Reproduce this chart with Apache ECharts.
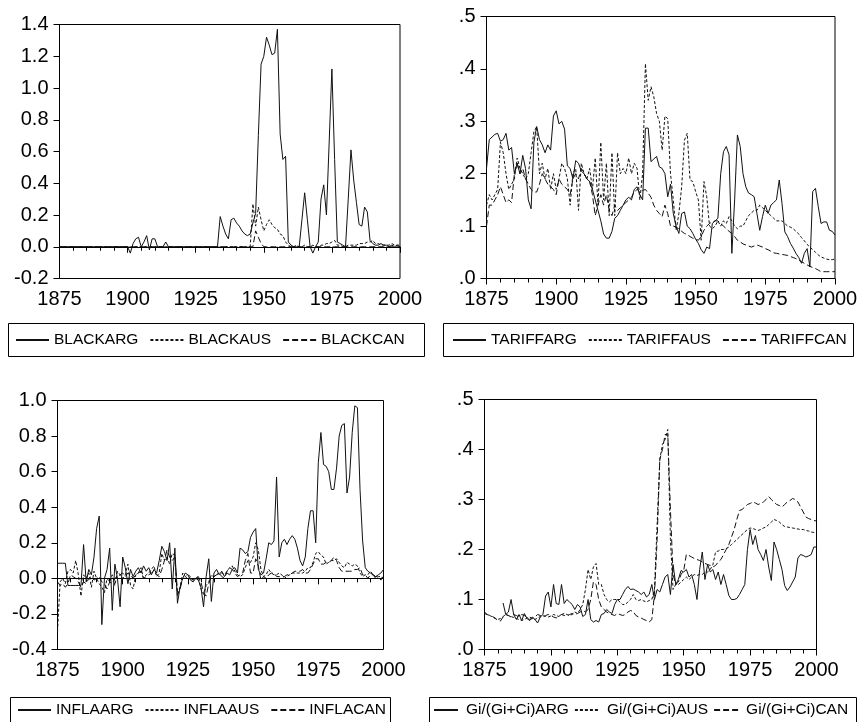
<!DOCTYPE html>
<html><head><meta charset="utf-8">
<script src="https://cdn.jsdelivr.net/npm/echarts@6/dist/echarts.min.js"></script>
<style>html,body{margin:0;padding:0;background:#fff}#c{width:861px;height:722px}</style>
</head><body><div id="c"></div>
<script>
const years = [1875,1876,1877,1878,1879,
1880,1881,1882,1883,1884,1885,1886,1887,1888,1889,
1890,1891,1892,1893,1894,1895,1896,1897,1898,1899,
1900,1901,1902,1903,1904,1905,1906,1907,1908,1909,
1910,1911,1912,1913,1914,1915,1916,1917,1918,1919,
1920,1921,1922,1923,1924,1925,1926,1927,1928,1929,
1930,1931,1932,1933,1934,1935,1936,1937,1938,1939,
1940,1941,1942,1943,1944,1945,1946,1947,1948,1949,
1950,1951,1952,1953,1954,1955,1956,1957,1958,1959,
1960,1961,1962,1963,1964,1965,1966,1967,1968,1969,
1970,1971,1972,1973,1974,1975,1976,1977,1978,1979,
1980,1981,1982,1983,1984,1985,1986,1987,1988,1989,
1990,1991,1992,1993,1994,1995,1996,1997,1998,1999,
2000];

// Panel 1: black market premium
const blackArg = [0,0,0,0,0,
0,0,0,0,0,0,0,0,0,0,
0,0,0,0,0,0,0,0,0,0,
0,-0.04,0.02,0.05,0.06,0.0,0.03,0.07,-0.02,0.05,
0.05,0.0,0.0,0.0,0.03,0,0,0,0,0,
0,0,0,0,0,0,0,0,0,0,
0,0,0,0,0.19,0.13,0.08,0.05,0.17,0.18,
0.15,0.13,0.1,0.08,0.07,0.08,0.15,0.21,0.7,1.15,
1.2,1.32,1.27,1.21,1.22,1.37,0.71,0.55,0.57,0.03,
0.01,0.0,0.0,0.0,0.17,0.34,0.17,0.0,-0.04,0.0,
0.03,0.3,0.39,0.2,0.66,1.12,0.55,0.03,0.02,0.01,
0.0,0.3,0.61,0.42,0.28,0.14,0.13,0.25,0.22,0.04,
0.02,0.01,0.01,0.02,0.01,0.01,0.0,0.01,0.0,0.01,
0.0];
const blackAus = [0,0,0,0,0,
0,0,0,0,0,0,0,0,0,0,
0,0,0,0,0,0,0,0,0,0,
0,0,0,0,0,0,0,0,0,0,
0,0,0,0,0,0,0,0,0,0,
0,0,0,0,0,0,0,0,0,0,
0,0,0,0,0,0,0,0,0,0,
0,0,0,0,0,0.0,0.27,0.13,0.25,0.17,
0.1,0.14,0.17,0.14,0.12,0.11,0.08,0.07,0.03,0.01,
0.0,0.0,0.01,0.0,0.0,0.01,0.0,0.0,0.01,0.0,
0.0,0.01,0.01,0.02,0.02,0.03,0.04,0.01,0.01,0.0,
0.0,0.01,0.01,0.01,0.01,0.02,0.02,0.02,0.03,0.03,
0.04,0.02,0.02,0.01,0.01,0.01,0.01,0.02,0.01,0.01,
0.01];
const blackCan = [0,0,0,0,0,
0,0,0,0,0,0,0,0,0,0,
0,0,0,0,0,0,0,0,0,0,
0,0,0,0,0,0,0,0,0,0,
0,0,0,0,0,0,0,0,0,0,
0,0,0,0,0,0,0,0,0,0,
0,0,0,0,0,0,0,0,0,0,
0,0,0,0,0,0,0.0,0.1,0.06,0.02,
0,0,0,0,0,0,0,0,0,0,
0,0,0,0,0,0,0,0,0,0,
0,0,0,0,0,0,0,0,0,0,
0,0,0,0,0,0,0,0,0,0,
0,0,0,0,0,0,0,0,0,0,
0];

// Panel 2: tariffs
const tariffArg = [0.21,0.265,0.27,0.275,0.277,
0.262,0.265,0.277,0.245,0.25,0.2,0.22,0.2,0.235,0.21,
0.15,0.133,0.26,0.29,0.265,0.255,0.24,0.255,0.245,0.31,
0.32,0.295,0.3,0.285,0.215,0.21,0.19,0.225,0.22,0.205,
0.2,0.19,0.185,0.17,0.15,0.13,0.11,0.085,0.077,0.077,
0.09,0.115,0.12,0.13,0.14,0.15,0.155,0.15,0.17,0.175,
0.16,0.15,0.287,0.287,0.223,0.228,0.233,0.213,0.21,0.2,
0.156,0.18,0.124,0.1,0.086,0.124,0.127,0.1,0.095,0.086,
0.075,0.067,0.055,0.048,0.06,0.057,0.105,0.11,0.115,0.2,
0.242,0.252,0.236,0.048,0.15,0.274,0.252,0.2,0.175,0.163,
0.16,0.156,0.124,0.092,0.118,0.14,0.124,0.14,0.145,0.15,
0.188,0.143,0.089,0.08,0.067,0.058,0.048,0.04,0.029,0.048,
0.057,0.022,0.166,0.172,0.137,0.105,0.108,0.108,0.092,0.09,
0.083];
const tariffAus = [0.14,0.16,0.15,0.16,0.17,
0.26,0.24,0.2,0.17,0.18,0.19,0.23,0.21,0.2,0.19,
0.2,0.24,0.28,0.29,0.2,0.22,0.19,0.21,0.17,0.2,
0.17,0.19,0.22,0.21,0.19,0.14,0.2,0.21,0.13,0.22,
0.2,0.19,0.21,0.17,0.23,0.14,0.26,0.15,0.22,0.12,
0.24,0.12,0.24,0.2,0.21,0.2,0.23,0.2,0.22,0.21,
0.15,0.2,0.41,0.34,0.366,0.347,0.315,0.3,0.245,0.31,
0.305,0.2,0.15,0.092,0.124,0.175,0.264,0.277,0.188,0.185,
0.166,0.15,0.073,0.185,0.156,0.1,0.095,0.1,0.11,0.1,
0.11,0.105,0.118,0.11,0.1,0.095,0.1,0.1,0.11,0.12,
0.125,0.13,0.13,0.14,0.135,0.13,0.125,0.12,0.115,0.11,
0.11,0.11,0.105,0.1,0.098,0.095,0.09,0.085,0.078,0.072,
0.065,0.06,0.055,0.05,0.045,0.041,0.039,0.037,0.036,0.036,
0.037];
const tariffCan = [0.1,0.14,0.14,0.15,0.16,
0.175,0.16,0.145,0.15,0.145,0.2,0.22,0.2,0.21,0.19,
0.18,0.17,0.165,0.165,0.18,0.2,0.19,0.18,0.175,0.17,
0.16,0.19,0.18,0.175,0.17,0.16,0.19,0.2,0.19,0.21,
0.2,0.19,0.185,0.16,0.12,0.14,0.16,0.14,0.16,0.13,
0.12,0.14,0.13,0.135,0.14,0.145,0.15,0.155,0.165,0.17,
0.165,0.168,0.17,0.163,0.155,0.14,0.13,0.124,0.118,0.14,
0.124,0.1,0.1,0.098,0.095,0.09,0.086,0.084,0.08,0.077,
0.075,0.073,0.08,0.092,0.1,0.105,0.108,0.11,0.11,0.105,
0.1,0.095,0.09,0.086,0.08,0.073,0.07,0.066,0.064,0.062,
0.06,0.062,0.064,0.062,0.06,0.057,0.055,0.052,0.049,0.048,
0.047,0.046,0.045,0.044,0.042,0.04,0.038,0.035,0.032,0.029,
0.026,0.023,0.021,0.019,0.016,0.013,0.013,0.013,0.013,0.013,
0.013];

// Panel 3: inflation
const inflaArg = [0.085,0.085,0.085,0.085,-0.04,
-0.04,-0.04,-0.04,-0.04,-0.04,0.19,-0.02,0.05,0.02,0.12,
0.28,0.35,-0.26,0.0,0.05,0.17,-0.18,0.08,0.0,-0.16,
0.12,0.06,-0.03,0.05,0.01,0.04,0.06,0.03,0.07,0.04,
0.06,0.02,0.05,0.03,0.1,0.18,0.15,0.1,0.2,-0.06,
0.17,-0.14,-0.05,0.0,0.03,0.02,-0.01,-0.02,0.0,-0.01,
-0.05,-0.16,0.01,0.11,-0.13,0.03,0.05,0.02,0.04,0.01,
0.03,0.02,0.05,0.06,0.03,0.17,0.16,0.14,0.15,0.23,
0.26,0.28,0.05,0.02,0.03,0.11,0.2,0.19,0.21,0.57,
0.12,0.2,0.22,0.19,0.22,0.24,0.22,0.17,0.1,0.07,
0.12,0.28,0.38,0.38,0.2,0.65,0.82,0.64,0.63,0.6,
0.5,0.5,0.62,0.8,0.86,0.87,0.48,0.57,0.82,0.97,
0.96,0.5,0.21,0.06,0.04,0.03,0.02,0.01,0.02,0.03,
0.05];
const inflaAus = [-0.3,-0.02,0.0,-0.03,0.04,
0.05,0.03,0.1,0.02,-0.1,0.02,0.0,0.03,-0.05,0.04,
0.0,-0.03,-0.05,-0.08,0.0,-0.02,0.02,-0.04,0.04,0.02,
0.0,0.02,0.08,-0.04,-0.06,0.02,0.03,0.06,0.0,0.02,
0.03,0.05,0.07,0.01,0.03,0.14,0.1,0.12,0.08,0.14,
0.13,-0.1,-0.05,0.03,0.01,0.02,0.01,-0.01,0.0,0.01,
-0.06,-0.09,-0.04,-0.02,0.02,0.01,0.02,0.03,0.03,0.02,
0.04,0.06,0.07,0.04,0.02,0.01,0.02,0.06,0.1,0.09,
0.12,0.2,0.16,0.05,0.01,0.02,0.05,0.03,0.02,0.02,
0.03,0.02,0.0,0.01,0.02,0.03,0.03,0.03,0.03,0.03,
0.04,0.06,0.06,0.09,0.14,0.15,0.13,0.12,0.08,0.09,
0.1,0.1,0.11,0.09,0.07,0.06,0.09,0.08,0.07,0.08,
0.07,0.03,0.01,0.02,0.02,0.04,0.02,0.0,0.01,0.01,
0.0];
const inflaCan = [-0.02,-0.04,-0.03,-0.05,-0.03,
0.02,0.01,0.0,-0.02,-0.05,-0.02,-0.03,0.0,0.01,-0.01,
0.0,0.01,-0.02,-0.03,-0.06,-0.02,-0.03,0.0,0.01,0.02,
0.03,0.01,0.03,0.02,0.0,0.02,0.03,0.04,0.0,0.01,
0.02,0.03,0.04,0.02,0.01,0.05,0.1,0.16,0.12,0.1,
0.12,-0.08,-0.06,0.0,0.0,0.01,0.0,-0.01,0.0,0.01,
-0.02,-0.08,-0.1,-0.03,0.01,0.01,0.02,0.03,0.01,0.0,
0.04,0.06,0.05,0.03,0.01,0.02,0.03,0.1,0.14,0.03,
0.03,0.11,0.07,-0.01,0.01,0.0,0.02,0.03,0.03,0.01,
0.01,0.01,0.01,0.02,0.02,0.03,0.04,0.04,0.04,0.05,
0.03,0.03,0.05,0.08,0.11,0.11,0.08,0.08,0.09,0.09,
0.1,0.12,0.1,0.06,0.04,0.04,0.04,0.04,0.04,0.05,
0.05,0.06,0.02,0.02,0.0,0.02,0.02,0.01,0.01,-0.01,
0.02];

// Panel 4: Gi/(Gi+Ci)
const giArg = [null,null,null,null,null,
null,null,0.093,0.07,0.075,0.1,0.07,0.06,0.07,0.058,
0.072,0.062,0.058,0.065,0.06,0.053,0.065,0.07,0.107,0.115,
0.085,0.13,0.092,0.09,0.13,0.092,0.1,0.095,0.09,0.08,
0.09,0.085,0.066,0.07,0.1,0.06,0.055,0.058,0.055,0.07,
0.072,0.08,0.075,0.072,0.09,0.1,0.1,0.11,0.12,0.126,
0.12,0.121,0.118,0.115,0.11,0.115,0.105,0.11,0.13,0.1,
0.12,0.115,0.13,0.145,0.15,0.11,0.17,0.13,0.14,0.158,
0.155,0.16,0.145,0.15,0.13,0.1,0.16,0.195,0.14,0.17,
0.155,0.16,0.14,0.155,0.13,0.15,0.13,0.108,0.1,0.1,
0.102,0.11,0.12,0.13,0.2,0.24,0.21,0.228,0.2,0.19,
0.178,0.2,0.165,0.138,0.215,0.2,0.18,0.16,0.128,0.118,
0.125,0.135,0.145,0.183,0.19,0.188,0.185,0.187,0.19,0.205,
0.205];
const giAus = [0.072,0.07,0.068,0.065,0.062,
0.06,0.062,0.066,0.07,0.068,0.066,0.064,0.062,0.06,0.058,
0.06,0.063,0.065,0.062,0.06,0.063,0.066,0.068,0.066,0.065,
0.067,0.07,0.068,0.066,0.07,0.072,0.07,0.068,0.07,0.075,
0.072,0.08,0.09,0.12,0.16,0.14,0.165,0.172,0.13,0.13,
0.11,0.1,0.095,0.1,0.1,0.1,0.095,0.09,0.09,0.095,
0.1,0.11,0.1,0.098,0.1,0.097,0.095,0.098,0.1,0.12,
0.25,0.38,0.41,0.42,0.44,0.22,0.12,0.13,0.13,0.135,
0.14,0.145,0.14,0.145,0.15,0.148,0.15,0.15,0.155,0.155,
0.16,0.17,0.195,0.197,0.2,0.2,0.202,0.205,0.21,0.215,
0.22,0.225,0.23,0.235,0.24,0.243,0.242,0.24,0.238,0.24,
0.243,0.245,0.25,0.255,0.26,0.258,0.255,0.25,0.246,0.245,
0.244,0.243,0.242,0.241,0.24,0.24,0.238,0.237,0.235,0.234,
0.233];
const giCan = [0.075,0.07,0.068,0.066,0.063,
0.058,0.057,0.065,0.07,0.068,0.065,0.07,0.068,0.065,0.07,
0.068,0.065,0.06,0.062,0.065,0.07,0.068,0.065,0.068,0.07,
0.068,0.065,0.063,0.067,0.07,0.068,0.067,0.07,0.072,0.07,
0.072,0.075,0.078,0.075,0.08,0.1,0.135,0.13,0.1,0.085,
0.08,0.075,0.072,0.07,0.068,0.072,0.07,0.068,0.07,0.075,
0.078,0.076,0.068,0.065,0.063,0.06,0.058,0.055,0.06,0.11,
0.22,0.38,0.4,0.43,0.43,0.28,0.15,0.13,0.135,0.15,
0.158,0.19,0.188,0.185,0.182,0.18,0.178,0.175,0.172,0.17,
0.168,0.165,0.168,0.175,0.18,0.19,0.2,0.21,0.225,0.24,
0.26,0.278,0.28,0.285,0.29,0.292,0.295,0.293,0.29,0.292,
0.295,0.3,0.306,0.3,0.295,0.29,0.288,0.285,0.29,0.295,
0.298,0.302,0.3,0.295,0.285,0.275,0.265,0.262,0.26,0.258,
0.257];

const names = [
  ['BLACKARG','BLACKAUS','BLACKCAN'],
  ['TARIFFARG','TARIFFAUS','TARIFFCAN'],
  ['INFLAARG','INFLAAUS','INFLACAN'],
  ['Gi/(Gi+Ci)ARG','Gi/(Gi+Ci)AUS','Gi/(Gi+Ci)CAN']
];
const panelData = [
  [blackArg, blackAus, blackCan],
  [tariffArg, tariffAus, tariffCan],
  [inflaArg, inflaAus, inflaCan],
  [giArg, giAus, giCan]
];

const FONT = 'Liberation Sans, Arial, sans-serif';
const grids = [
  {left: 59.5, top: 24.5, width: 340.5, height: 254},
  {left: 486.5, top: 16.5, width: 348.5, height: 262},
  {left: 57.5, top: 400.5, width: 326, height: 249},
  {left: 484.5, top: 399.5, width: 332, height: 250}
];
const yRanges = [
  {min: -0.2, max: 1.4, interval: 0.2, lead: true},
  {min: 0, max: 0.5, interval: 0.1, lead: false},
  {min: -0.4, max: 1.0, interval: 0.2, lead: true},
  {min: 0, max: 0.5, interval: 0.1, lead: false}
];
const dashes = ['solid', [3, 2], [6, 3]];

function pairs(vals) { return years.map((y, i) => [y, vals[i]]); }

const option = {
  backgroundColor: '#fff',
  animation: false,
  grid: grids.map(g => Object.assign({show: true, borderColor: '#000', borderWidth: 1, backgroundColor: 'transparent'}, g)),
  xAxis: grids.map((g, i) => ({
    type: 'value', gridIndex: i, min: 1875, max: 2000, interval: 25,
    axisLine: {lineStyle: {color: '#000', width: 1}},
    axisTick: {length: 6, lineStyle: {color: '#000'}},
    minorTick: {show: true, splitNumber: 5, length: 4, lineStyle: {color: '#000'}},
    splitLine: {show: false},
    axisLabel: {color: '#000', fontSize: 20, fontFamily: FONT, margin: 11, formatter: v => String(v)}
  })),
  yAxis: yRanges.map((r, i) => ({
    type: 'value', gridIndex: i, min: r.min, max: r.max, interval: r.interval,
    axisLine: {show: true, lineStyle: {color: '#000', width: 1}},
    axisTick: {show: true, length: 6, lineStyle: {color: '#000'}},
    splitLine: {show: false},
    axisLabel: {color: '#000', fontSize: 20, fontFamily: FONT, margin: 11,
      formatter: v => { let s = (Math.abs(v) < 1e-9 ? 0 : v).toFixed(1); return r.lead ? s : s.replace(/^0/, '').replace(/^-0/, '-'); }}
  })),
  legend: [
    {left: 15, top: 332},
    {left: 452, top: 332},
    {left: 17, top: 702},
    {left: 433, top: 702}
  ].map((p, i) => ({
    left: p.left, top: p.top, padding: 0, itemGap: i === 3 ? 5 : 11,
    itemWidth: i === 3 ? 24 : 33, itemHeight: 14,
    data: names[i],
    itemStyle: {opacity: 0, color: 'rgba(0,0,0,0)', borderColor: 'rgba(0,0,0,0)', borderWidth: 0},
    textStyle: {color: '#000', fontSize: 15.5, fontFamily: FONT, padding: i === 3 ? [0, 0, 0, 3] : 0},
    inactiveColor: '#000'
  })),
  graphic: [
    {x: 8.5, y: 323.5, w: 416, h: 33},
    {x: 443.5, y: 323.5, w: 410, h: 33},
    {x: 10.5, y: 697.5, w: 380, h: 30},
    {x: 429.5, y: 697.5, w: 427, h: 30}
  ].map(b => ({type: 'rect', shape: {x: b.x, y: b.y, width: b.w, height: b.h}, style: {fill: 'none', stroke: '#000', lineWidth: 1}, silent: true})),
  series: []
};

panelData.forEach((set, p) => {
  set.forEach((vals, k) => {
    option.series.push({
      type: 'line', name: names[p][k], xAxisIndex: p, yAxisIndex: p,
      data: pairs(vals), symbol: 'none', connectNulls: false,
      lineStyle: {color: '#111', width: 1, type: dashes[k]},
      itemStyle: {color: '#111'},
      z: 3 - k
    });
  });
});

const chart = echarts.init(document.getElementById('c'), null, {renderer: 'canvas'});
chart.setOption(option);
</script>
</body></html>
